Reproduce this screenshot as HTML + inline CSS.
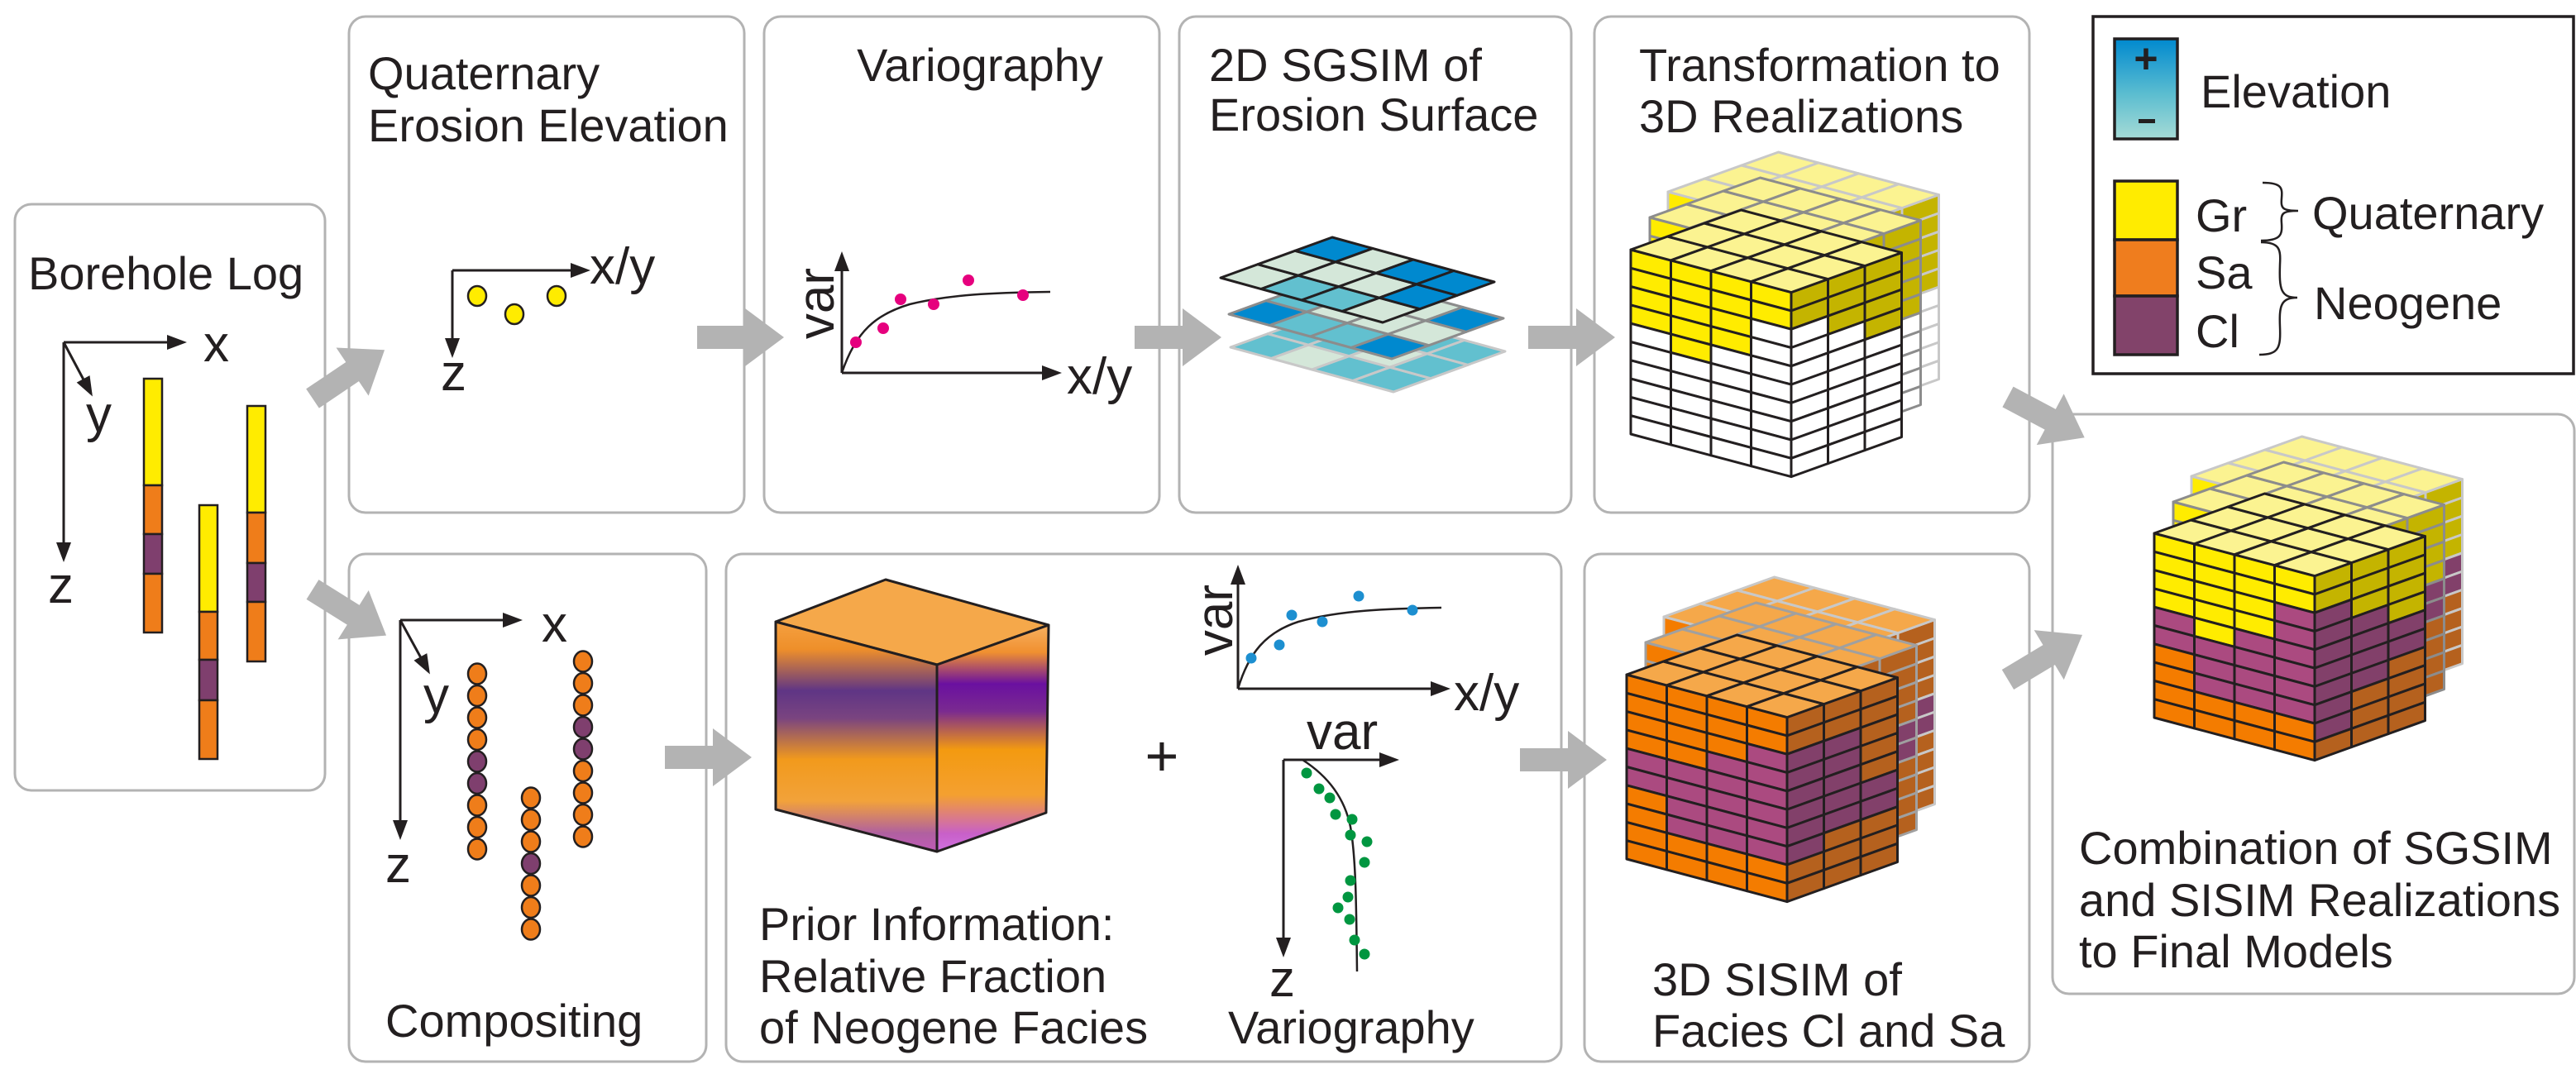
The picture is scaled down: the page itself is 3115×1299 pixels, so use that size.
<!DOCTYPE html>
<html><head><meta charset="utf-8"><style>
html,body{margin:0;padding:0;background:#fff;}
svg{display:block;}
text{font-family:"Liberation Sans",Arial,sans-serif;fill:#231f20;}
</style></head><body>
<svg id="s" xmlns="http://www.w3.org/2000/svg" width="3115" height="1299" viewBox="0 0 3115 1299">
<defs>
<linearGradient id="elev" x1="0" y1="0" x2="0" y2="1">
<stop offset="0" stop-color="#0089cf"/><stop offset="0.55" stop-color="#5bbdd0"/><stop offset="1" stop-color="#a6dbd6"/>
</linearGradient>
<linearGradient id="pf" x1="0" y1="0" x2="0" y2="1">
<stop offset="0" stop-color="#f5a040"/><stop offset="0.12" stop-color="#ee8f2a"/><stop offset="0.3" stop-color="#5f3585"/><stop offset="0.42" stop-color="#7a4480"/><stop offset="0.6" stop-color="#f29a1c"/><stop offset="0.78" stop-color="#f2a23a"/><stop offset="0.92" stop-color="#b060a0"/><stop offset="1" stop-color="#c05ab8"/>
</linearGradient>
<linearGradient id="pr" x1="0" y1="0" x2="0" y2="1">
<stop offset="0" stop-color="#f7b060"/><stop offset="0.12" stop-color="#f09030"/><stop offset="0.26" stop-color="#6a10a0"/><stop offset="0.38" stop-color="#7a2a90"/><stop offset="0.55" stop-color="#f39a10"/><stop offset="0.75" stop-color="#f4a030"/><stop offset="0.92" stop-color="#c860c8"/><stop offset="1" stop-color="#d070e0"/>
</linearGradient>
</defs>
<g fill="none" stroke="#b3b3b3" stroke-width="3">
<rect x="18" y="247" width="375" height="709" rx="20"/>
<rect x="422" y="20" width="478" height="600" rx="20"/>
<rect x="924" y="20" width="478" height="600" rx="20"/>
<rect x="1426" y="20" width="474" height="600" rx="20"/>
<rect x="1928" y="20" width="526" height="600" rx="20"/>
<rect x="422" y="670" width="432" height="614" rx="20"/>
<rect x="878" y="670" width="1010" height="614" rx="20"/>
<rect x="1916" y="670" width="538" height="614" rx="20"/>
<rect x="2482" y="501" width="631" height="701" rx="20"/>
</g>
<rect x="2531" y="20" width="581" height="432" fill="none" stroke="#231f20" stroke-width="3.5"/>
<g id="arrows" fill="#b3b3b3"></g>
<g id="dyn"></g>
<g font-size="56">
<text x="34" y="350">Borehole Log</text>
<text x="445" y="108">Quaternary</text>
<text x="445" y="171">Erosion Elevation</text>
<text x="1185" y="98" text-anchor="middle">Variography</text>
<text x="1462" y="98">2D SGSIM of</text>
<text x="1462" y="158">Erosion Surface</text>
<text x="1982" y="98">Transformation to</text>
<text x="1982" y="160">3D Realizations</text>
<text x="466" y="1254">Compositing</text>
<text x="918" y="1137">Prior Information:</text>
<text x="918" y="1200">Relative Fraction</text>
<text x="918" y="1262">of Neogene Facies</text>
<text x="1485" y="1262">Variography</text>
<text x="1998" y="1204">3D SISIM of</text>
<text x="1998" y="1266">Facies Cl and Sa</text>
<text x="2514" y="1045">Combination of SGSIM</text>
<text x="2514" y="1108">and SISIM Realizations</text>
<text x="2514" y="1170">to Final Models</text>
<text x="2661" y="130">Elevation</text>
<text x="2655" y="280">Gr</text>
<text x="2655" y="349">Sa</text>
<text x="2655" y="420">Cl</text>
<text x="2796" y="277">Quaternary</text>
<text x="2798" y="386">Neogene</text>
<text x="1405" y="938" text-anchor="middle" font-size="70">+</text>
</g>
<g font-size="62">
<text x="246" y="437">x</text>
<text x="104" y="522">y</text>
<text x="58" y="729">z</text>
<text x="713" y="343">x/y</text>
<text x="533" y="472">z</text>
<text x="1290" y="476">x/y</text>
<text transform="translate(1008,367) rotate(-90)" text-anchor="middle">var</text>
<text x="655" y="776">x</text>
<text x="512" y="862">y</text>
<text x="466" y="1067">z</text>
<text x="1758" y="859">x/y</text>
<text transform="translate(1490,750) rotate(-90)" text-anchor="middle">var</text>
<text x="1580" y="906">var</text>
<text x="1535" y="1205">z</text>
</g>
<!-- legend shapes -->
<rect x="2557" y="47" width="76" height="121" fill="url(#elev)" stroke="#231f20" stroke-width="3.5"/>
<text x="2595" y="88" font-size="50" text-anchor="middle" font-weight="bold">+</text>
<rect x="2586" y="144" width="20" height="5" fill="#231f20"/>
<rect x="2557" y="219" width="76" height="71" fill="#ffec00" stroke="#231f20" stroke-width="3.5"/>
<rect x="2557" y="290" width="76" height="68" fill="#ef7d1e" stroke="#231f20" stroke-width="3.5"/>
<rect x="2557" y="358" width="76" height="71" fill="#82436a" stroke="#231f20" stroke-width="3.5"/>
<g fill="none" stroke="#231f20" stroke-width="2.5">
<path d="M2736 221 C2760 221 2760 228 2759 240 C2758 252 2760 255 2779 255 C2760 255 2758 258 2759 270 C2760 284 2758 291 2734 291"/>
<path d="M2734 293 C2757 293 2758 302 2757 320 C2756 350 2758 360 2778 360 C2758 360 2756 370 2757 395 C2758 420 2756 429 2732 429"/>
</g>
</svg>
<script>
(function(){
var NS="http://www.w3.org/2000/svg";
var dyn=document.getElementById('dyn');
function el(tag,attrs,parent){var e=document.createElementNS(NS,tag);for(var k in attrs)e.setAttribute(k,attrs[k]);(parent||dyn).appendChild(e);return e;}
function poly(pts,fill,stroke,sw,parent){return el('polygon',{points:pts.map(function(p){return p[0].toFixed(1)+','+p[1].toFixed(1);}).join(' '),fill:fill,stroke:stroke||'none','stroke-width':sw||0,'stroke-linejoin':'round'},parent);}
function line(x1,y1,x2,y2,sw,col){return el('line',{x1:x1,y1:y1,x2:x2,y2:y2,stroke:col||'#231f20','stroke-width':sw||3});}
function arrowLine(x1,y1,x2,y2){
  line(x1,y1,x2,y2,3);
  var dx=x2-x1,dy=y2-y1,L=Math.sqrt(dx*dx+dy*dy),ux=dx/L,uy=dy/L;
  var hl=20,hw=9;
  poly([[x2+ux*4,y2+uy*4],[x2-ux*hl+(-uy)*hw,y2-uy*hl+ux*hw],[x2-ux*hl-(-uy)*hw,y2-uy*hl-ux*hw]],'#231f20');
}
// block arrows
var ag=document.getElementById('arrows');
function barrow(x,y,ang){
  var g=el('g',{transform:'translate('+x+','+y+') rotate('+ang+')'},ag);
  poly([[0,-14],[58,-14],[58,-35],[105,0],[58,35],[58,14],[0,14]],'#b3b3b3',null,0,g);
}
barrow(843,408,0);barrow(1372,408,0);barrow(1848,408,0);
barrow(804,916,0);barrow(1838,919,0);
barrow(378,482,-34);barrow(378,713,32);
barrow(2428,480,28);barrow(2428,822,-31);

// Borehole axes & logs
arrowLine(77,414,222,414);arrowLine(77,414,77,676);arrowLine(77,414,110,476);
function log(x,segs){var y=segs[0];for(var i=1;i<segs.length;i+=2){var c=segs[i],y2=segs[i+1];el('rect',{x:x,y:y,width:22,height:y2-y,fill:c,stroke:'#231f20','stroke-width':2.5});y=y2;}}
var Y='#ffec00',O='#ef7d1a',P='#7f3f6e';
log(174,[458,Y,587,O,646,P,694,O,765]);
log(241,[611,Y,740,O,798,P,847,O,918]);
log(299,[491,Y,620,O,681,P,728,O,800]);

// Quaternary axes
arrowLine(547,327,710,327);arrowLine(547,327,547,429);
[[577,358],[622,380],[673,358]].forEach(function(p){el('ellipse',{cx:p[0],cy:p[1],rx:11,ry:12,fill:'#ffec00',stroke:'#231f20','stroke-width':2.5});});

// Variography
arrowLine(1018,451,1018,308);arrowLine(1018,451,1280,451);
el('path',{d:'M1018 451 C1035 400 1060 380 1100 368 C1150 356 1200 354 1270 353',fill:'none',stroke:'#231f20','stroke-width':2.5});
[[1035,414],[1068,397],[1089,362],[1129,368],[1171,339],[1237,357]].forEach(function(p){el('circle',{cx:p[0],cy:p[1],r:7,fill:'#e6007e'});});

// SGSIM grids
var LC='#d4e7d9',MC='#62c0cf',DC='#0089cf';
function grid(L,T,R,cols,stroke){
  var u=[(T[0]-L[0])/3,(T[1]-L[1])/3],v=[(R[0]-T[0])/4,(R[1]-T[1])/4];
  function P(i,j){return [L[0]+i*u[0]+j*v[0],L[1]+i*u[1]+j*v[1]];}
  for(var i=0;i<3;i++)for(var j=0;j<4;j++){poly([P(i,j),P(i+1,j),P(i+1,j+1),P(i,j+1)],cols[i][j],stroke,3);}
}
grid([1488,420],[1623,371],[1820,425],[[MC,LC,MC,MC],[MC,MC,LC,MC],[LC,LC,MC,MC]],'#c8c8c8');
grid([1486,380],[1621,331],[1818,385],[[DC,MC,MC,DC],[MC,LC,LC,LC],[LC,LC,LC,DC]],'#8c8c8c');
grid([1476,336],[1611,287],[1807,341],[[LC,MC,MC,LC],[LC,LC,LC,DC],[DC,LC,DC,DC]],'#231f20');

// cubes
var a=[48.5,12.9],b=[44.5,-16],h=22.3;
function cube(ox,oy,front,right,topc,stroke,sw){
  function F(c,r){return [ox+c*a[0],oy+c*a[1]+r*h];}
  var R0=[ox+4*a[0],oy+4*a[1]];
  function Rr(c,r){return [R0[0]+c*b[0],R0[1]+c*b[1]+r*h];}
  function T(i,j){return [ox+i*a[0]+j*b[0],oy+i*a[1]+j*b[1]];}
  for(var c=0;c<4;c++){var col=front(c);for(var r=0;r<10;r++)poly([F(c,r),F(c+1,r),F(c+1,r+1),F(c,r+1)],col[r],stroke,sw);}
  for(var c=0;c<3;c++){var col=right(c);for(var r=0;r<10;r++)poly([Rr(c,r),Rr(c+1,r),Rr(c+1,r+1),Rr(c,r+1)],col[r],stroke,sw);}
  for(var i=0;i<4;i++)for(var j=0;j<3;j++)poly([T(i,j),T(i+1,j),T(i+1,j+1),T(i,j+1)],topc,stroke,sw);
}
function seq(spec){var o=[];for(var i=0;i<spec.length;i+=2)for(var k=0;k<spec[i+1];k++)o.push(spec[i]);return o;}
var yF='#ffec00',yR='#c4b400',yT='#fbf391',oF='#f47c00',oR='#b5611e',oT='#f5a84a',pF='#ab4a80',pR='#82406a',W='#ffffff';
// Transformation
var tf=[seq([yF,4,W,6]),seq([yF,5,W,5]),seq([yF,4,W,6]),seq([yF,2,W,8])];
var tr=[seq([yR,2,W,8]),seq([yR,3,W,7]),seq([yR,4,W,6])];
var tfb=[seq([yF,4,W,6]),seq([yF,4,W,6]),seq([yF,4,W,6]),seq([yF,4,W,6])];
var trb=[seq([yR,4,W,6]),seq([yR,4,W,6]),seq([yR,5,W,5])];
cube(2017,232,function(c){return tfb[c];},function(c){return trb[c];},yT,'#c8c8c8',3);
cube(1995,263,function(c){return tfb[c];},function(c){return trb[c];},yT,'#8c8c8c',3);
cube(1972,302,function(c){return tf[c];},function(c){return tr[c];},yT,'#231f20',3);
// SISIM
var sf=[seq([oF,4,pF,2,oF,4]),seq([oF,4,pF,4,oF,2]),seq([oF,3,pF,5,oF,2]),seq([oF,2,pF,6,oF,2])];
var sr=[seq([oR,2,pR,6,oR,2]),seq([oR,2,pR,5,oR,3]),seq([oR,5,pR,2,oR,3])];
var srb=[seq([oR,3,pR,4,oR,3]),seq([oR,3,pR,3,oR,4]),seq([oR,4,pR,2,oR,4])];
cube(2012,746,function(c){return sf[c];},function(c){return srb[c];},oT,'#c8c8c8',3);
cube(1990,777,function(c){return sf[c];},function(c){return srb[c];},oT,'#a0a0a0',3);
cube(1967,816,function(c){return sf[c];},function(c){return sr[c];},oT,'#231f20',3);
// Combination
var cf=[seq([yF,4,pF,2,oF,4]),seq([yF,5,pF,3,oF,2]),seq([yF,4,pF,4,oF,2]),seq([yF,2,pF,6,oF,2])];
var cr=[seq([yR,2,pR,7,oR,1]),seq([yR,3,pR,4,oR,3]),seq([yR,4,pR,2,oR,4])];
var crb=[seq([yR,3,pR,3,oR,4]),seq([yR,3,pR,3,oR,4]),seq([yR,4,pR,2,oR,4])];
cube(2650,576,function(c){return cf[c];},function(c){return crb[c];},yT,'#c8c8c8',3);
cube(2628,607,function(c){return cf[c];},function(c){return crb[c];},yT,'#8c8c8c',3);
cube(2605,645,function(c){return cf[c];},function(c){return cr[c];},yT,'#231f20',3);

// Compositing
arrowLine(484,750,628,750);arrowLine(484,750,484,1012);arrowLine(484,750,518,812);
function dots(x,y0,n,purp){for(var i=0;i<n;i++){el('ellipse',{cx:x,cy:y0+i*26.5,rx:11,ry:12.5,fill:purp.indexOf(i)>=0?'#7f3f6e':'#ef7d1a',stroke:'#231f20','stroke-width':2.5});}}
dots(577,815,9,[4,5]);dots(642,965,7,[3]);dots(705,800,9,[3,4]);

// Prior cube
poly([[938,752],[1071,701],[1268,756],[1133,804]],'#f5a84a','#231f20',3);
poly([[938,752],[1133,804],[1133,1030],[938,979]],'url(#pf)','#231f20',3);
poly([[1133,804],[1268,756],[1265,983],[1133,1030]],'url(#pr)','#231f20',3);

// Prior variograms
arrowLine(1497,833,1497,687);arrowLine(1497,833,1750,833);
el('path',{d:'M1497 833 C1510 790 1530 765 1570 752 C1620 738 1680 736 1743 735',fill:'none',stroke:'#231f20','stroke-width':2.5});
[[1513,796],[1547,780],[1562,744],[1599,752],[1643,721],[1708,738]].forEach(function(p){el('circle',{cx:p[0],cy:p[1],r:6.5,fill:'#1d8fd0'});});
arrowLine(1552,919,1688,919);arrowLine(1552,919,1552,1154);
el('path',{d:'M1575 919 C1600 935 1625 960 1633 1000 C1640 1040 1640 1100 1641 1175',fill:'none',stroke:'#231f20','stroke-width':2.5});
[[1580,935],[1595,954],[1608,965],[1615,985],[1635,991],[1633,1010],[1653,1018],[1650,1043],[1633,1065],[1630,1085],[1618,1098],[1632,1112],[1638,1137],[1650,1154]].forEach(function(p){el('circle',{cx:p[0],cy:p[1],r:6.5,fill:'#009640'});});
})();
</script>
</body></html>
